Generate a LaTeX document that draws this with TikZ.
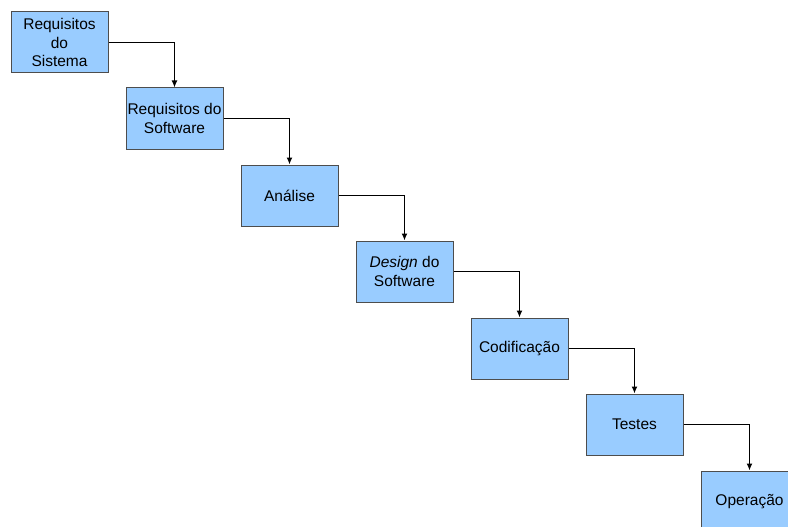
\documentclass[tikz,border=0pt]{standalone}
\usepackage{fontspec}
\setmainfont{Liberation Sans}
\usetikzlibrary{arrows.meta}
\definecolor{etapafill}{HTML}{99CCFF}
\definecolor{etapaborda}{HTML}{4D4D4D}

\begin{document}
\begin{tikzpicture}[x=1pt,y=-1pt,
    etapa/.style={draw=etapaborda, line width=1pt, fill=etapafill, minimum width=97pt, minimum height=61pt, inner sep=0pt, align=center, font=\fontsize{15.5}{18.5}\selectfont},
    fluxo/.style={line width=1.8pt, -{Latex[length=7pt,width=6pt]}}]
      \useasboundingbox (0,0) rectangle (788,527);
      \clip (0,0) rectangle (788,527);
      \node[name=rsis, etapa] at (59.5,42.5){Requisitos\\do\\Sistema};
      \node[name=rsw, etapa] at (174.5,118.5){Requisitos do\\Software};
      \node[name=ana, etapa] at (289.5,195.5){Análise};
      \node[name=des, etapa] at (404.5,271.5){\textit{Design} do\\Software};
      \node[name=cod, etapa] at (519.5,348.5){Codificação};
      \node[name=tes, etapa] at (634.5,424.5){Testes};
      \node[name=ope, etapa] at (749.5,501.5){Operação};
      \draw[fluxo] (rsis.east) -| (rsw.north);
      \draw[fluxo] (rsw.east) -| (ana.north);
      \draw[fluxo] (ana.east) -| (des.north);
      \draw[fluxo] (des.east) -| (cod.north);
      \draw[fluxo] (cod.east) -| (tes.north);
      \draw[fluxo] (tes.east) -| (ope.north);
    \end{tikzpicture}
\end{document}
